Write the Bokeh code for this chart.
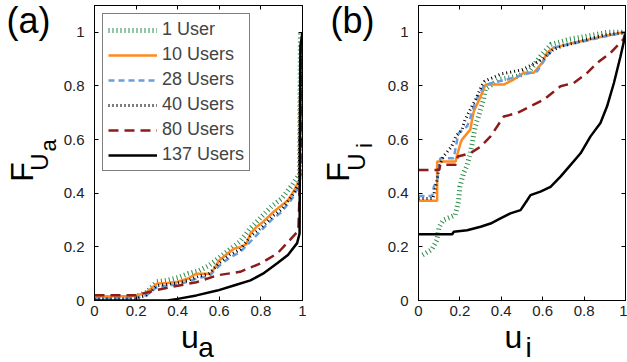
import math
from bokeh.plotting import figure
from bokeh.layouts import row, column
from bokeh.models import LinearAxis, FixedTicker, Label, Range1d
from bokeh.embed import file_html
from bokeh.resources import INLINE

# ---------------- data ----------------
series_names = ["1 User", "10 Users", "28 Users", "40 Users", "80 Users", "137 Users"]
tick_values = [0, 0.2, 0.4, 0.6, 0.8, 1]
tick_labels = ["0", "0.2", "0.4", "0.6", "0.8", "1"]

# panel (a): CDF of u_a
a1_x = [0, 0.18, 0.25, 0.3, 0.35, 0.4, 0.45, 0.5, 0.55, 0.6, 0.65, 0.7, 0.75, 0.8, 0.85, 0.9, 0.95, 0.985, 0.99, 1.0]
a1_y = [0.01, 0.01, 0.03, 0.07, 0.075, 0.085, 0.1, 0.11, 0.13, 0.16, 0.19, 0.22, 0.27, 0.31, 0.35, 0.38, 0.43, 0.47, 1.0, 1.0]
a10_x = [0, 0.2, 0.25, 0.3, 0.35, 0.4, 0.45, 0.49, 0.56, 0.6, 0.64, 0.67, 0.70, 0.73, 0.75, 0.78, 0.81, 0.86, 0.89, 0.93, 0.96, 0.985, 0.99, 1.0]
a10_y = [0.015, 0.017, 0.031, 0.063, 0.065, 0.07, 0.082, 0.10, 0.10, 0.15, 0.175, 0.193, 0.199, 0.21, 0.25, 0.275, 0.293, 0.33, 0.349, 0.374, 0.41, 0.45, 0.85, 1.0]
a28_x = [0, 0.2, 0.25, 0.3, 0.35, 0.4, 0.45, 0.5, 0.55, 0.6, 0.65, 0.7, 0.75, 0.8, 0.85, 0.9, 0.95, 0.985, 0.99, 1.0]
a28_y = [0.008, 0.01, 0.02, 0.05, 0.055, 0.06, 0.07, 0.085, 0.09, 0.13, 0.16, 0.18, 0.22, 0.26, 0.30, 0.33, 0.38, 0.43, 0.85, 1.0]
a40_x = [0, 0.2, 0.25, 0.3, 0.35, 0.4, 0.45, 0.5, 0.55, 0.6, 0.65, 0.7, 0.75, 0.8, 0.85, 0.9, 0.95, 0.985, 0.99, 1.0]
a40_y = [0.005, 0.006, 0.02, 0.055, 0.06, 0.065, 0.075, 0.09, 0.10, 0.14, 0.17, 0.19, 0.24, 0.27, 0.31, 0.34, 0.39, 0.44, 0.9, 1.0]
a80_x = [0, 0.2, 0.3, 0.4, 0.49, 0.59, 0.70, 0.8, 0.88, 0.94, 0.98, 0.99, 1.0]
a80_y = [0.02, 0.02, 0.039, 0.055, 0.068, 0.094, 0.107, 0.139, 0.176, 0.226, 0.26, 0.5, 1.0]
a137_x = [0, 0.35, 0.4, 0.49, 0.59, 0.67, 0.75, 0.81, 0.88, 0.93, 0.974, 0.986, 0.99, 1.0]
a137_y = [0, 0, 0.006, 0.019, 0.037, 0.056, 0.075, 0.1, 0.14, 0.17, 0.214, 0.25, 0.95, 1.0]

# panel (b): CDF of u_i
b1_x = [0.02, 0.064, 0.089, 0.1, 0.12, 0.177, 0.193, 0.2, 0.217, 0.233, 0.25, 0.258, 0.274, 0.29, 0.314, 0.322, 0.386, 0.435, 0.483, 0.54, 0.59, 0.64, 0.73, 0.815, 0.91, 1.0]
b1_y = [0.17, 0.19, 0.225, 0.275, 0.30, 0.318, 0.368, 0.424, 0.474, 0.50, 0.55, 0.58, 0.649, 0.687, 0.749, 0.787, 0.824, 0.83, 0.837, 0.86, 0.911, 0.955, 0.974, 0.986, 1.0, 1.0]
b10_x = [0, 0.09, 0.09, 0.179, 0.187, 0.203, 0.21, 0.25, 0.259, 0.267, 0.3, 0.324, 0.412, 0.46, 0.509, 0.557, 0.597, 0.621, 0.654, 0.75, 0.863, 0.99, 1.0]
b10_y = [0.372, 0.372, 0.518, 0.518, 0.543, 0.587, 0.60, 0.637, 0.674, 0.705, 0.761, 0.805, 0.805, 0.824, 0.849, 0.849, 0.886, 0.924, 0.943, 0.961, 0.98, 1.0, 1.0]
b28_x = [0, 0.066, 0.074, 0.09, 0.098, 0.105, 0.17, 0.187, 0.195, 0.235, 0.25, 0.275, 0.316, 0.348, 0.428, 0.509, 0.573, 0.621, 0.654, 0.766, 0.91, 1.0]
b28_y = [0.39, 0.39, 0.424, 0.449, 0.487, 0.53, 0.53, 0.60, 0.625, 0.65, 0.68, 0.743, 0.80, 0.81, 0.824, 0.843, 0.855, 0.911, 0.943, 0.961, 0.986, 1.0]
b40_x = [0, 0.07, 0.09, 0.1, 0.12, 0.16, 0.18, 0.21, 0.225, 0.25, 0.275, 0.305, 0.32, 0.4, 0.5, 0.6, 0.65, 0.7, 0.8, 0.9, 1.0]
b40_y = [0.38, 0.38, 0.45, 0.5, 0.537, 0.574, 0.612, 0.637, 0.674, 0.712, 0.749, 0.80, 0.818, 0.845, 0.86, 0.9, 0.935, 0.95, 0.97, 0.99, 1.0]
b80_x = [0, 0.1, 0.105, 0.18, 0.19, 0.25, 0.3, 0.348, 0.38, 0.412, 0.477, 0.541, 0.605, 0.686, 0.75, 0.815, 0.863, 0.928, 0.99, 1.0]
b80_y = [0.487, 0.487, 0.506, 0.506, 0.537, 0.549, 0.574, 0.612, 0.649, 0.686, 0.699, 0.724, 0.749, 0.799, 0.811, 0.849, 0.886, 0.924, 0.974, 1.0]
b137_x = [0, 0.163, 0.17, 0.235, 0.3, 0.348, 0.396, 0.444, 0.493, 0.525, 0.541, 0.589, 0.638, 0.686, 0.734, 0.783, 0.831, 0.879, 0.911, 0.944, 0.976, 1.0]
b137_y = [0.247, 0.247, 0.256, 0.262, 0.275, 0.287, 0.306, 0.325, 0.337, 0.374, 0.393, 0.406, 0.424, 0.462, 0.505, 0.549, 0.612, 0.662, 0.724, 0.811, 0.911, 0.993]

# ---------------- styles ----------------
styles = [
    dict(line_color="#2b8a4a", line_width=5, line_dash="1 3"),
    dict(line_color="#ff8a1f", line_width=2.5),
    dict(line_color="#6b9ddb", line_width=2.5, line_dash="6 4"),
    dict(line_color="black", line_width=3, line_dash="1 3"),
    dict(line_color="#8c1c1c", line_width=2.5, line_dash="10 6"),
    dict(line_color="black", line_width=2.5),
]
FONT = "Liberation Sans"
TOP_H = 325
FRAME_BOTTOM = 300   # page y of the plot frames' bottom edge (text strips share it)


def make_fig(width, right_border):
    p = figure(width=width, height=TOP_H, x_range=Range1d(0, 1), y_range=Range1d(0, 1.1),
               output_backend="svg", toolbar_location=None,
               min_border_left=36, min_border_right=right_border,
               min_border_top=5, min_border_bottom=25,
               x_axis_location=None, y_axis_location=None)
    p.grid.visible = False
    p.outline_line_color = "black"
    p.background_fill_color = "white"
    p.border_fill_color = "white"
    ticker = FixedTicker(ticks=tick_values)
    overrides = {v: t for v, t in zip(tick_values, tick_labels)}
    blank = {v: "" for v in tick_values}
    for loc in ["below", "left", "above", "right"]:
        ax = LinearAxis(ticker=ticker)
        ax.major_tick_in = 4
        ax.major_tick_out = 0
        ax.minor_tick_line_color = None
        ax.axis_line_color = "black"
        ax.major_tick_line_color = "black"
        if loc in ("below", "left"):
            ax.major_label_overrides = overrides
            ax.major_label_text_font = FONT
            ax.major_label_text_font_size = "15px"
            ax.major_label_text_color = "#222222"
            ax.major_label_standoff = 5 if loc == "below" else 10
        else:
            ax.major_label_overrides = blank
            ax.major_label_text_font_size = "0px"
            ax.major_label_standoff = 0
        p.add_layout(ax, loc)
    return p


def text_fig(width, height):
    """A plain canvas that only carries text labels."""
    t = figure(width=width, height=height, x_range=Range1d(0, 1), y_range=Range1d(0, 1),
               output_backend="svg", toolbar_location=None, min_border=0,
               x_axis_location=None, y_axis_location=None)
    t.grid.visible = False
    t.outline_line_color = None
    t.background_fill_color = "white"
    t.border_fill_color = "white"
    return t


def lab(p, text, x, y, size, angle=0.0):
    p.add_layout(Label(x=x, y=y, x_units="screen", y_units="screen", text=text,
                       text_font=FONT, text_font_size=f"{size}px", angle=angle,
                       text_align="center", text_baseline="middle", text_color="black"))


fa = make_fig(248, 4)
fb = make_fig(245, 2)

a_data = [(a1_x, a1_y), (a10_x, a10_y), (a28_x, a28_y), (a40_x, a40_y), (a80_x, a80_y), (a137_x, a137_y)]
b_data = [(b1_x, b1_y), (b10_x, b10_y), (b28_x, b28_y), (b40_x, b40_y), (b80_x, b80_y), (b137_x, b137_y)]

for (xs, ys), name, st in zip(a_data, series_names, styles):
    fa.line(xs, ys, legend_label=name, line_cap="butt", **st)
for (xs, ys), st in zip(b_data, styles):
    fb.line(xs, ys, line_cap="butt", **st)

lg = fa.legend[0]
lg.location = "top_left"
lg.margin = 8
lg.padding = 5
lg.spacing = 4
lg.glyph_width = 49
lg.glyph_height = 20
lg.label_height = 20
lg.label_standoff = 5
lg.label_text_font = FONT
lg.label_text_font_size = "18px"
lg.border_line_color = "black"
lg.border_line_width = 1
lg.background_fill_alpha = 1.0

half_pi = math.pi / 2

# left text strips; their frames line up with the plot frames (bottom at FRAME_BOTTOM)
ta = text_fig(58, TOP_H)
tb = text_fig(76, TOP_H)
TB_X0 = 306
lab(ta, "(a)", 28, FRAME_BOTTOM - 20, 36)
lab(tb, "(b)", 352 - TB_X0, FRAME_BOTTOM - 20, 36)
# y labels  F_{U_a}, F_{U_i}  (rotated, reading upwards)
lab(ta, "F", 21, FRAME_BOTTOM - 171.5, 32, half_pi)
lab(ta, "U", 39, FRAME_BOTTOM - 161.5, 24, half_pi)
lab(ta, "a", 48, FRAME_BOTTOM - 145, 22, half_pi)
lab(tb, "F", 337 - TB_X0, FRAME_BOTTOM - 171.5, 32, half_pi)
lab(tb, "U", 355.5 - TB_X0, FRAME_BOTTOM - 161.5, 24, half_pi)
lab(tb, "i", 364 - TB_X0, FRAME_BOTTOM - 145, 22, half_pi)

# bottom text strip with x labels u_a, u_i
BOT_H = 35
PAGE_H = TOP_H + BOT_H
tx = text_fig(627, BOT_H)
lab(tx, "u", 189.5, PAGE_H - 336, 32)
lab(tx, "a", 205.5, PAGE_H - 347, 28)
lab(tx, "u", 513, PAGE_H - 336, 32)
lab(tx, "i", 528, PAGE_H - 347, 28)

layout = column(row(ta, fa, tb, fb), tx)
open("out.html", "w").write(file_html(layout, INLINE))
